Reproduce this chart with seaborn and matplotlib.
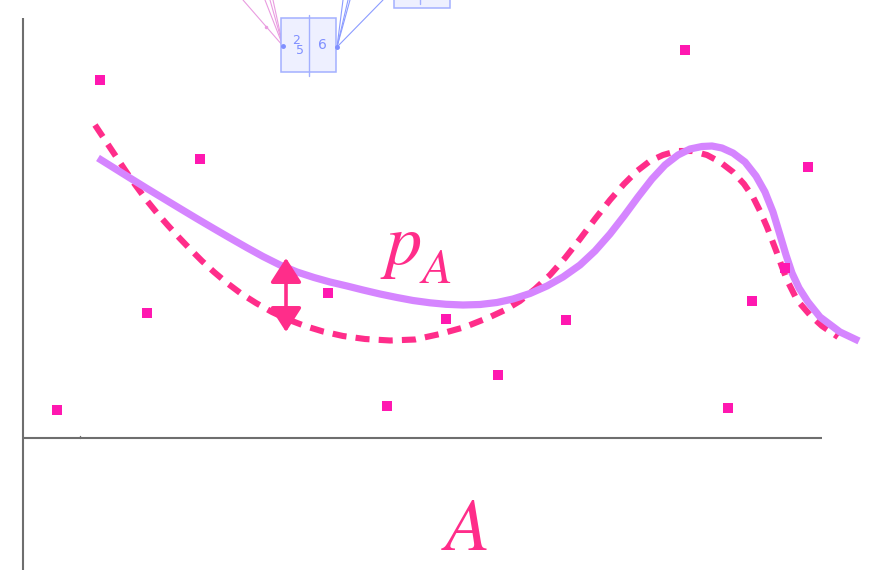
import matplotlib
matplotlib.use("Agg")
import matplotlib.pyplot as plt
from matplotlib.patches import Rectangle
import seaborn as sns
import pandas as pd

# observed samples
obs_x = [34, 77, 124, 177, 305, 364, 423, 475, 543, 662, 705, 729, 762, 785]
obs_y = [28, 358, 125, 279, 145, 32, 119, 63, 118, 388, 30, 137, 170, 271]

# empirical estimate (dashed)
est_x = [72, 82, 92, 102, 112, 123, 134, 145, 156, 167, 179, 191, 204, 218, 233,
         249, 265, 282, 300, 320, 342, 367, 392, 417, 442, 467, 482, 497, 512,
         527, 542, 557, 572, 587, 601, 614, 627, 640, 654, 669, 684, 697, 710,
         721, 730, 737, 744, 749, 754, 759, 764, 774, 787, 799, 815]
est_y = [313, 298, 283, 268, 253.5, 238.5, 225, 212.5, 200.5, 189, 177, 166, 155,
         144.5, 135, 126, 118.5, 112, 106.5, 102, 99, 97.5, 98.5, 104, 111, 121,
         128, 137, 149, 163, 180, 199, 219, 238, 254, 267, 277, 283, 287, 287,
         283, 276, 266, 254, 241, 227, 211, 198, 185, 171, 158, 138, 123, 112, 101]

# model density p_A (solid)
pa_x = [75, 91, 107, 124, 140, 157, 174, 191, 207, 224, 240, 257, 274, 291, 307,
        324, 340, 357, 374, 390, 407, 423, 440, 457, 474, 490, 507, 524, 540,
        557, 572, 587, 601, 615, 629, 642, 655, 667, 679, 689, 699, 710, 722,
        733, 742, 750, 757, 763, 769, 776, 785, 797, 817, 836]
pa_y = [280, 270, 260, 249.5, 239.8, 229.5, 219.3, 209.3, 200, 190.3, 181.5, 173,
        166, 160.5, 156, 152, 148, 144, 140.5, 137.5, 135.2, 133.7, 133, 133.5,
        135.5, 139, 144.5, 152, 161, 173, 187, 204, 222, 241, 259, 273, 283, 289,
        291.5, 292, 290, 285, 276, 262, 246, 226, 203, 183, 165, 150, 136, 121,
        106, 97]

# gap marker between the two curves
gap_x = 263
gap_top, gap_bottom = 180, 106

PINK = "#ff2d8a"
MAGENTA = "#ff18b0"
LILAC = "#d585ff"
AXIS = "#6e6e6e"
BLUE = "#8c9cff"

sns.set_theme(style="white")
plt.rcParams["mathtext.fontset"] = "stix"

fig = plt.figure(figsize=(8.75, 5.74), dpi=100)
ax = fig.add_axes([0, 0, 1, 1])
ax.set_xlim(-23, 852)
ax.set_ylim(-136, 438)
ax.axis("off")

# axes drawn by hand
ax.plot([0, 0], [420, -132], color=AXIS, lw=1.5, solid_capstyle="butt")
ax.plot([0, 799], [0.5, 0.5], color=AXIS, lw=1.5, solid_capstyle="butt")
ax.plot([57, 57], [0.5, 2.5], color=AXIS, lw=1)

est = pd.DataFrame({"x": est_x, "y": est_y})
pa = pd.DataFrame({"x": pa_x, "y": pa_y})
obs = pd.DataFrame({"x": obs_x, "y": obs_y})

sns.lineplot(data=est, x="x", y="y", ax=ax, color=PINK, lw=4.4,
             linestyle=(0, (2.3, 1.5)), dash_capstyle="butt",
             dash_joinstyle="round", zorder=2)
sns.lineplot(data=pa, x="x", y="y", ax=ax, color=LILAC, lw=5.2,
             solid_capstyle="butt", solid_joinstyle="round", zorder=3)
sns.scatterplot(data=obs, x="x", y="y", ax=ax, marker="s", s=62,
                color=MAGENTA, edgecolor="none", linewidth=0, zorder=4)

ax.annotate("", xy=(gap_x, gap_bottom), xytext=(gap_x, gap_top),
            arrowprops=dict(arrowstyle="<|-|>,head_length=0.5,head_width=0.32",
                            color=PINK, lw=2.6, mutation_scale=30,
                            shrinkA=0, shrinkB=0), zorder=5)

# curve label p_A, with the subscript set a little lower
ax.text(378, 174, r"$p$", color=PINK, fontsize=52, ha="center",
        va="baseline", zorder=6)
ax.text(412, 155, r"$A$", color=PINK, fontsize=36, ha="center",
        va="baseline", zorder=6)
ax.text(442, -112, r"$A$", color=PINK, fontsize=53, ha="center",
        va="baseline", zorder=6)

# small diagram at the top
for x0 in (220, 242, 247, 250):
    ax.plot([x0, 260], [438, 392], color="#e99ce0", lw=0.8, zorder=1)
ax.plot([243], [411], marker="o", ms=1.5, color="#e99ce0")
for x0 in (320, 325, 327, 360):
    ax.plot([x0, 314], [438, 391], color=BLUE, lw=0.8, zorder=1)
ax.add_patch(Rectangle((258, 366), 55, 54, facecolor="#eef0ff",
                       edgecolor="#a3b0ff", lw=1.1, zorder=1.5))
ax.plot([286, 286], [362, 423], color="#a3b0ff", lw=1.0, zorder=1.6)
ax.add_patch(Rectangle((371, 430), 56, 20, facecolor="#eef0ff",
                       edgecolor="#a3b0ff", lw=1.1, zorder=1.5))
ax.plot([397, 397], [434, 440], color="#a3b0ff", lw=1.0, zorder=1.6)
ax.plot([260, 314], [392, 391], "o", ms=2.5, color="#7f8fff", zorder=2)
ax.text(273, 398, "2", color="#7f8fff", fontsize=9, ha="center", va="center")
ax.text(277, 387, "5", color="#7f8fff", fontsize=9, ha="center", va="center")
ax.text(299, 393, "6", color="#7f8fff", fontsize=10, ha="center", va="center")

fig.savefig("out.png", dpi=100)
